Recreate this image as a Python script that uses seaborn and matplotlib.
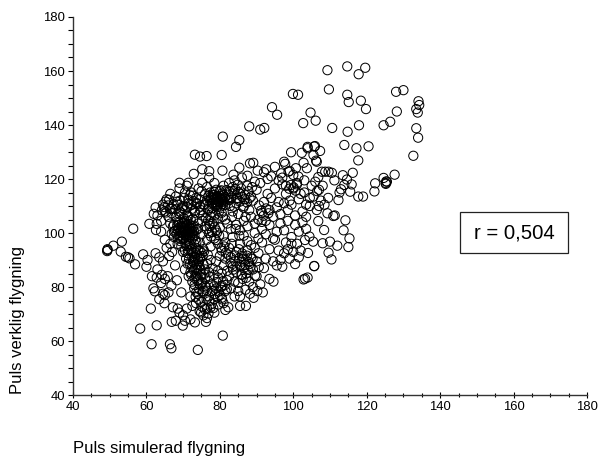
import matplotlib
matplotlib.use('Agg')
import matplotlib.pyplot as plt
import pandas as pd
import seaborn as sns
from matplotlib.patches import Rectangle
from matplotlib.ticker import MultipleLocator

# Values, ten pairs per line
sim_pulse = [
    73.2,74.6,76.4,80.5,80.8,85.3,84.4,88.0,91.0,92.1,
    94.2,95.6,99.9,101.3,104.7,102.7,106.1,99.4,102.3,103.9,
    105.9,97.5,97.8,100.7,102.8,103.7,105.5,106.2,101.4,96.7,
    98.7,88.2,89.1,85.3,92.6,90.3,80.7,75.2,77.1,72.9,
    83.7,87.5,69.0,71.4,75.2,77.1,56.4,53.3,51.0,49.4,
    49.4,49.3,53.0,54.4,55.0,55.4,56.9,59.1,60.3,60.0,
    60.8,62.0,62.8,62.6,58.3,62.8,61.4,66.4,66.8,74.0,
    80.8,61.2,66.9,64.9,61.9,62.3,102.8,103.2,103.9,105.7,
    94.6,93.5,91.7,87.1,85.5,82.3,76.2,73.2,69.9,109.3,
    114.7,117.8,119.6,109.7,114.7,115.1,118.4,119.8,128.0,130.0,
    134.1,134.3,133.5,133.9,128.2,126.4,124.6,133.5,134.0,132.7,
    110.6,114.8,117.9,113.9,117.2,120.5,117.7,116.2,113.5,127.6,
    124.6,122.3,122.1,125.3,125.2,125.2,125.5,119.0,117.7,115.5,
    113.9,112.3,114.2,113.7,115.3,115.0,112.0,110.0,108.0,109.6,
    110.4,105.7,108.4,106.8,110.9,111.3,109.3,106.4,107.8,108.7,
    109.6,110.5,106.8,106.4,105.7,107.3,103.9,104.0,104.4,103.2,
    105.4,103.5,103.0,104.5,107.0,112.6,111.2,113.0,115.9,114.6,
    62.5,63.5,64.5,65.5,66.2,67.0,63.0,64.2,65.0,67.8,
    61.5,62.8,64.0,65.8,66.8,68.3,64.5,66.0,67.2,68.5,
    69.0,70.0,70.5,71.0,72.0,72.5,68.0,69.5,63.5,65.0,
    62.5,63.0,64.0,64.5,65.0,65.5,66.0,66.5,67.0,67.5,
    64.0,65.0,66.5,67.5,68.0,68.5,69.0,69.5,70.0,70.5,
    68.5,69.0,69.5,70.0,70.5,71.0,71.5,72.0,72.5,73.0,
    69.8,70.3,70.8,71.3,71.8,72.3,72.8,73.3,70.2,71.6,
    69.2,70.6,71.1,72.1,73.6,74.0,68.9,70.1,71.4,72.7,
    76.5,77.0,77.5,78.0,78.5,79.0,79.5,80.0,80.5,81.0,
    81.5,82.0,78.2,78.8,79.3,79.8,80.3,80.8,77.4,76.8,
    75.5,76.0,79.0,80.0,81.0,82.5,83.0,83.5,74.5,75.0,
    70.5,71.5,72.5,73.5,74.5,75.5,76.5,77.5,78.5,79.5,
    68.5,69.2,70.2,71.2,72.2,73.2,74.2,75.2,76.2,77.2,
    80.5,81.5,82.5,83.5,84.5,85.5,86.5,87.5,88.5,89.5,
    84.0,85.0,86.0,87.0,88.0,89.0,90.0,91.0,92.0,93.0,
    74.0,75.0,76.0,77.0,78.0,79.0,80.0,81.0,82.0,83.0,
    74.5,75.5,76.5,77.5,78.5,79.5,80.5,81.5,82.5,83.5,
    70.8,71.3,71.8,72.3,72.8,73.3,73.8,74.3,74.8,75.3,
    70.5,71.5,72.5,73.5,74.5,75.5,72.0,73.0,74.0,75.0,
    72.5,73.0,73.5,74.0,74.5,75.0,75.5,76.0,76.5,77.0,
    77.5,78.0,78.5,79.0,79.5,80.0,80.5,81.0,81.5,82.0,
    72.0,73.5,74.5,75.5,76.5,77.5,78.5,79.5,80.5,81.5,
    76.0,76.5,77.0,77.5,78.0,78.5,79.0,79.5,80.0,80.5,
    81.0,81.5,82.0,82.5,83.0,83.5,84.0,84.5,85.0,85.5,
    83.0,84.0,85.0,86.0,87.0,88.0,89.0,90.0,91.0,92.0,
    85.5,86.0,86.5,87.0,87.5,88.0,88.5,89.0,89.5,90.0,
    84.5,85.5,86.5,87.5,88.5,89.5,90.5,91.5,92.5,93.5,
    90.5,91.5,92.5,93.5,94.5,95.5,96.5,97.5,98.5,99.5,
    84.5,85.5,86.5,87.5,88.5,89.5,90.5,91.5,92.5,93.5,
    94.5,95.5,96.5,97.5,98.5,99.5,100.5,101.5,102.5,103.5,
    94.0,95.0,96.0,97.0,98.0,99.0,100.0,101.0,102.0,103.0,
    94.5,95.5,96.5,97.5,98.5,99.5,100.5,101.5,102.5,103.5,
    104.5,105.5,106.5,107.5,108.5,109.5,105.0,106.0,107.0,108.0,
    100.0,101.0,99.0,98.0,97.0,96.0,100.5,101.5,102.0,95.0,
    70.6,71.2,71.7,70.0,72.4,69.6,73.1,70.9,71.9,72.6,
    78.3,78.9,79.6,80.2,80.7,79.2,78.0,81.3,80.1,77.7,
    72.5,73.0,73.7,74.2,74.7,75.2,75.7,76.2,76.7,77.2,
    74.8,75.8,76.8,77.8,78.8,79.8,80.8,73.8,72.8,71.8,
    82.8,83.8,84.8,85.8,86.8,87.8,88.8,83.3,84.3,85.3,
    81.2,82.2,83.2,84.2,85.2,86.2,87.2,88.2,89.2,90.2,
    68.0,69.0,70.0,71.0,67.5,68.5,69.5,70.5,71.5,66.5,
    92.0,93.0,94.0,95.0,96.0,97.0,98.0,99.0,100.0,101.0,
    # the dark clumps
    77.3,78.1,79.4,80.6,81.4,78.7,79.9,81.1,82.3,77.9,
    78.4,79.1,80.4,81.8,82.6,83.4,78.9,80.9,76.9,84.2,
    68.2,68.8,69.4,69.9,70.4,70.9,71.4,71.9,68.6,69.3,
    70.2,70.8,71.5,72.2,67.8,67.2,68.4,69.7,66.9,70.5,
    71.6,72.1,72.7,73.2,73.7,74.1,72.4,73.4,71.2,72.9,
    74.6,71.9,73.9,72.2,73.1,74.4,75.1,71.4,70.9,73.6,
    73.1,73.9,74.4,74.9,75.4,76.1,73.6,74.7,75.7,76.6,
    78.4,79.1,79.7,80.3,80.9,81.4,78.7,79.4,80.6,81.9,
    77.1,76.4,75.2,74.3,73.4,77.8,78.2,74.9,75.9,76.9,
    64.2,64.9,65.4,65.9,66.4,66.9,67.4,65.2,66.2,67.9,
    68.9,69.7,68.3,71.4,72.6,73.6,74.6,72.2,73.1,71.1,
    85.9,86.4,86.9,87.4,87.9,88.4,86.1,87.6,88.9,85.2,
    84.6,84.1,85.9,87.2,83.6,82.9,81.6,80.4,89.6,90.6,
    76.4,77.2,77.9,78.6,79.2,77.6,78.3,79.8,76.8,78.9,
    84.6,85.4,86.1,86.8,87.4,85.1,86.4,88.1,83.9,84.9,
    91.2,91.9,92.6,90.7,93.2,91.4,98.9,99.4,100.1,100.6,
]
real_pulse = [
    129.0,128.3,128.5,128.9,135.7,134.4,131.9,139.5,138.3,138.9,
    146.6,143.8,151.5,151.2,144.6,140.7,141.6,129.9,129.7,131.9,
    132.2,126.4,125.6,124.0,126.0,124.0,128.9,126.8,120.9,122.1,
    122.7,125.8,126.0,124.2,123.6,123.1,123.1,123.6,122.9,121.9,
    121.6,121.2,118.6,118.6,118.6,120.5,101.6,96.8,95.3,94.0,
    93.7,93.3,93.1,91.2,91.0,90.6,88.4,92.1,90.0,87.5,
    103.4,107.1,103.4,101.1,64.6,65.8,58.8,58.8,57.3,56.7,
    62.0,72.0,67.1,74.0,79.5,78.4,82.8,83.1,83.5,87.8,
    82.0,83.0,78.0,73.0,73.0,72.5,67.1,66.9,65.7,160.3,
    161.7,158.8,161.2,153.2,151.2,148.5,149.0,145.9,152.3,152.9,
    148.8,147.4,145.9,144.6,145.0,141.2,139.9,138.8,135.3,128.6,
    138.9,137.5,139.9,132.6,131.4,132.1,126.9,122.3,121.4,121.6,
    120.4,118.4,115.4,119.1,118.2,118.5,119.0,113.5,113.5,115.3,
    117.8,112.2,104.7,101.0,98.0,94.8,95.3,96.8,96.2,92.7,
    90.2,87.7,101.1,104.4,106.3,106.5,107.3,108.5,122.7,122.7,
    122.7,122.3,120.7,126.4,132.0,130.4,131.4,92.6,98.7,97.4,
    96.8,110.5,115.0,113.0,116.0,115.0,119.5,116.2,118.0,119.8,
    92.5,91.0,89.5,94.5,91.5,93.0,86.5,84.5,83.0,88.0,
    84.0,83.5,81.5,84.0,80.5,82.5,77.5,78.0,72.5,72.0,
    70.5,69.5,67.5,72.0,68.0,73.0,67.5,78.0,75.5,77.0,
    109.5,106.5,104.5,110.5,108.0,112.5,106.0,114.5,109.0,103.0,
    100.5,97.5,96.0,100.5,113.5,96.0,116.5,107.5,93.0,115.0,
    101.0,99.0,102.5,98.0,100.5,103.0,99.5,101.5,98.0,100.5,
    100.2,101.8,98.8,100.8,102.2,99.9,102.6,97.5,103.8,97.2,
    97.0,96.2,104.5,104.8,101.2,103.5,103.8,105.5,106.0,105.2,
    112.0,110.0,113.5,111.0,114.0,112.5,110.5,113.0,111.5,114.0,
    110.5,112.5,112.2,110.2,113.2,111.8,112.6,110.8,115.0,108.5,
    110.5,114.5,116.0,115.5,117.5,115.5,113.0,117.0,112.5,115.5,
    108.5,111.0,109.0,113.0,107.5,106.5,117.0,106.0,118.5,105.5,
    110.5,112.0,113.0,106.5,115.0,107.5,116.5,104.5,105.5,103.5,
    107.5,105.0,118.5,108.0,111.0,114.5,110.0,117.5,113.5,119.0,
    119.5,107.0,120.5,106.0,108.5,112.0,116.0,118.5,111.5,114.5,
    101.5,99.5,102.5,100.0,103.5,101.0,102.0,99.0,103.5,101.5,
    96.5,94.0,97.5,95.0,98.0,96.0,93.5,96.5,94.5,98.5,
    90.5,92.5,88.5,94.0,90.0,87.0,92.0,89.5,86.5,91.5,
    86.5,95.0,91.0,94.5,93.5,88.5,85.5,89.0,90.5,84.5,
    82.0,79.5,84.0,77.5,81.0,74.5,78.5,83.0,72.0,76.5,
    81.0,78.5,75.5,79.5,83.5,77.0,80.5,74.0,78.5,82.5,
    76.5,74.0,71.0,69.5,68.5,72.5,70.5,73.5,76.0,71.5,
    86.5,88.5,85.5,90.0,87.0,84.5,89.5,86.0,91.5,85.0,
    88.0,90.5,86.0,84.0,91.0,87.5,82.0,85.5,78.5,76.5,
    79.5,76.5,81.5,84.5,79.0,82.0,80.0,84.0,81.0,87.0,
    88.0,91.5,87.0,90.0,93.5,88.5,91.0,86.5,94.5,89.5,
    93.0,96.0,99.0,97.0,95.5,100.0,92.5,96.5,90.5,94.0,
    98.0,101.5,99.5,103.0,89.5,88.0,90.0,92.5,94.0,96.0,
    103.0,101.0,104.5,102.5,106.0,103.5,105.0,107.5,104.5,108.5,
    106.0,109.5,107.0,111.0,108.5,110.5,106.5,112.5,108.0,106.0,
    113.0,116.5,111.5,118.0,114.5,112.0,116.5,118.5,114.5,119.5,
    98.0,100.5,103.5,101.0,104.5,98.5,103.0,100.5,104.0,101.5,
    110.0,113.5,115.5,112.0,110.5,113.0,117.5,119.0,110.0,117.5,
    93.0,96.0,90.5,96.5,87.5,93.5,88.5,91.0,93.5,97.5,
    100.8,99.6,101.0,101.9,100.6,99.9,99.0,102.9,98.4,101.7,
    113.0,111.5,112.0,113.8,112.2,109.5,109.2,112.8,109.8,113.0,
    92.8,96.0,85.0,82.8,91.0,81.8,93.2,79.8,92.0,83.8,
    108.5,110.5,109.0,107.5,106.8,108.0,106.0,110.8,111.8,114.0,
    110.0,115.5,113.0,116.5,112.5,115.5,117.0,106.0,101.5,99.0,
    95.0,92.0,96.0,89.5,94.0,83.0,85.0,77.5,76.0,78.5,
    106.0,108.0,110.0,117.5,98.5,104.0,95.0,93.5,84.0,103.5,
    122.5,120.0,121.0,124.5,119.5,120.5,117.5,123.0,121.5,118.0,
    # the dark clumps
    112.3,114.1,113.7,114.6,113.3,112.9,111.4,111.7,114.2,111.1,
    115.3,113.4,115.8,115.9,112.2,114.6,110.7,110.2,113.8,116.3,
    99.6,101.8,100.4,98.7,99.3,101.4,100.1,99.2,98.4,97.8,
    102.6,97.6,103.4,102.7,100.9,102.4,102.9,103.6,99.8,104.2,
    90.3,93.2,89.3,91.2,88.4,93.8,87.4,92.7,88.6,86.2,
    90.4,95.8,86.4,84.6,83.4,87.9,92.6,93.7,95.2,96.6,
    80.8,82.4,79.2,81.4,77.8,80.3,78.1,83.9,84.8,78.6,
    80.2,81.8,78.3,79.9,82.2,80.7,77.4,76.2,75.4,79.2,
    74.7,75.4,72.7,75.3,76.4,73.8,72.2,70.6,71.8,70.2,
    108.4,109.6,107.6,110.2,108.9,107.3,110.7,111.6,112.3,108.8,
    107.2,109.3,111.6,112.4,113.8,111.2,109.8,110.3,108.2,109.6,
    89.4,90.3,88.2,91.6,89.3,87.6,92.4,86.3,90.4,90.6,
    87.6,91.7,84.6,83.4,86.4,88.8,92.7,94.4,84.2,87.4,
    101.4,102.6,100.4,102.1,100.1,98.7,104.3,99.1,104.7,97.4,
    112.7,111.6,113.4,114.1,111.3,115.2,109.4,112.9,109.7,117.9,
    108.2,106.4,109.1,110.2,107.3,104.1,116.4,117.8,116.9,115.7,
]

df = pd.DataFrame({'sim': sim_pulse, 'real': real_pulse})

sns.set_style('ticks')
plt.rcParams['font.family'] = ['Liberation Sans', 'DejaVu Sans']

fig = plt.figure(figsize=(5.98, 4.58), dpi=100)
ax = fig.add_axes([73 / 598, 1 - 395 / 458, 514 / 598, 378 / 458])

sns.scatterplot(data=df, x='sim', y='real', ax=ax, marker='o', s=44,
                facecolors='none', edgecolor='black', linewidth=0.72,
                clip_on=False, legend=False)

ax.set_xlim(40, 180)
ax.set_ylim(40, 180)
ax.xaxis.set_major_locator(MultipleLocator(20))
ax.xaxis.set_minor_locator(MultipleLocator(5))
ax.yaxis.set_major_locator(MultipleLocator(20))
ax.yaxis.set_minor_locator(MultipleLocator(5))
ax.tick_params(which='both', length=3.6, width=0.8, color='black',
               labelsize=9.4, pad=2, labelcolor='black')
ax.tick_params(axis='x', which='major', length=4.5, direction='inout')
ax.tick_params(axis='x', which='minor', length=3.5, direction='inout')
sns.despine(ax=ax)
for side in ['left', 'bottom']:
    ax.spines[side].set_linewidth(1.0)
    ax.spines[side].set_color('#333333')

ax.set_xlabel('')
ax.set_ylabel('')
fig.text(73 / 598, 1 - 449 / 458, 'Puls simulerad flygning', fontsize=12,
         ha='left', va='center', color='black')
fig.text(18 / 598, 1 - 394 / 458, 'Puls verklig flygning', fontsize=12,
         rotation=90, ha='center', va='bottom', color='black')

# r box
fig.add_artist(Rectangle((460 / 598, 1 - 253 / 458), 108 / 598, 41 / 458,
                         transform=fig.transFigure, facecolor='white',
                         edgecolor='#222222', linewidth=0.9))
fig.text(514 / 598, 1 - 233 / 458, 'r = 0,504', fontsize=14.6, ha='center',
         va='center', color='black')

fig.savefig('out.png', dpi=100)
